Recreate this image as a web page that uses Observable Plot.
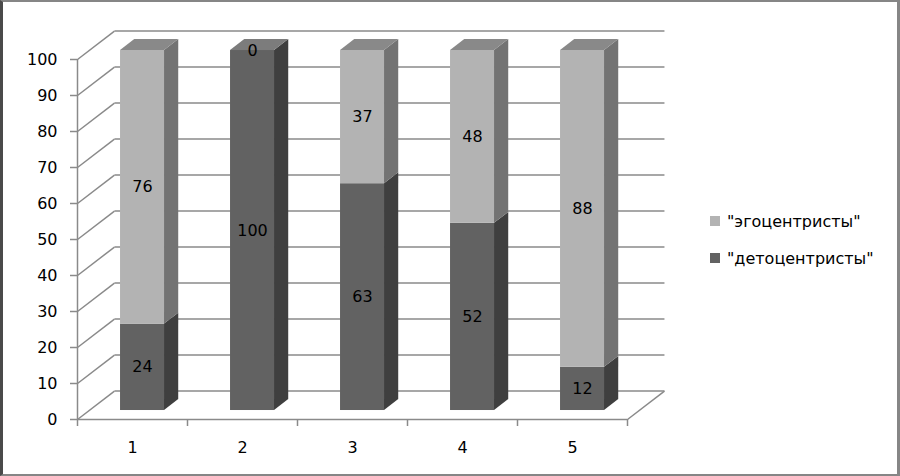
<!DOCTYPE html>
<html>
<head>
<meta charset="utf-8">
<script src="https://cdn.jsdelivr.net/npm/d3@7"></script>
<script src="https://cdn.jsdelivr.net/npm/@observablehq/plot@0.6"></script>
<style>
  html, body { margin: 0; padding: 0; background: #fff; }
  #wrap { position: relative; width: 900px; height: 476px; overflow: hidden; font-family: "DejaVu Sans", sans-serif; }
  #wrap svg { position: absolute; left: 0; top: 0; }
  #frame { position: absolute; left: 0; top: 0; width: 900px; height: 476px; box-sizing: border-box;
           border-top: 2px solid #868686; border-bottom: 2px solid #868686; border-right: 3px solid #868686; border-left: 3px solid #4a4a4a; pointer-events: none; }
  .leg { position: absolute; left: 710px; display: flex; align-items: center; height: 20px; font-size: 16px; color: #000; white-space: nowrap; }
  .leg span.sw { display: inline-block; width: 10px; height: 10px; margin-right: 7px; }
</style>
</head>
<body>
<div id="wrap"></div>
<script>
// ---- data ----
const categories = [1, 2, 3, 4, 5];
const detocentrists = [24, 100, 63, 52, 12];
const egocentrists = [76, 0, 37, 48, 88];
const seriesNames = ['"детоцентристы"', '"эгоцентристы"'];
const yTicks = [0, 10, 20, 30, 40, 50, 60, 70, 80, 90, 100];

// ---- style ----
const colors = {
  dark: { front: "#626262", side: "#3f3f3f", top: "#7c7c7c" },
  light: { front: "#b3b3b3", side: "#737373", top: "#898989" }
};
const gridColor = "#8a8a8a";
// 3D depth (in data units) and bar placement inside the depth
const DX = 0.336, DY = 7.9, F = 0.316, B = 0.70, HALF = 0.2, SHIFT = -0.015;

// ---- derived segments ----
const segments = [];
categories.forEach((c, i) => {
  segments.push({ id: c + "d", cat: c, s: "dark", y0: 0, y1: detocentrists[i], v: detocentrists[i] });
  segments.push({ id: c + "l", cat: c, s: "light", y0: detocentrists[i], y1: detocentrists[i] + egocentrists[i], v: egocentrists[i] });
});
const xl = d => d.cat + SHIFT - HALF, xr = d => d.cat + SHIFT + HALF;
const sidePts = segments.flatMap(d => [
  { id: d.id, s: d.s, x: xr(d) + F * DX, y1: d.y0 + F * DY, y2: d.y1 + F * DY },
  { id: d.id, s: d.s, x: xr(d) + B * DX, y1: d.y0 + B * DY, y2: d.y1 + B * DY }
]);
const tops = categories.map((c, i) => ({ cat: c, s: egocentrists[i] > 0 ? "light" : "dark", t: detocentrists[i] + egocentrists[i] }));
const topPts = tops.flatMap(d => [
  { id: d.cat, s: d.s, y: d.t + F * DY, x1: xl(d) + F * DX, x2: xr(d) + F * DX },
  { id: d.cat, s: d.s, y: d.t + B * DY, x1: xl(d) + B * DX, x2: xr(d) + B * DX }
]);
const x0 = categories[0] - 0.5, xN = categories[categories.length - 1] + 0.5;
const wallDiag = yTicks.map(v => ({ x1: x0, y1: v, x2: x0 + DX, y2: v + DY }));
const backLines = yTicks.map(v => ({ x1: x0 + DX, y1: v + DY, x2: xN + DX, y2: v + DY }));
const floorEdge = [{ x1: xN, y1: 0, x2: xN + DX, y2: DY }];
const bounds = d3.range(x0, xN + 0.001, 1);

const marks = [
  Plot.link(wallDiag, { x1: "x1", y1: "y1", x2: "x2", y2: "y2", stroke: gridColor, strokeWidth: 1.5 }),
  Plot.link(backLines, { x1: "x1", y1: "y1", x2: "x2", y2: "y2", stroke: gridColor, strokeWidth: 1.5 }),
  Plot.link(floorEdge, { x1: "x1", y1: "y1", x2: "x2", y2: "y2", stroke: gridColor, strokeWidth: 1.5 }),
  Plot.ruleY([0], { stroke: gridColor, strokeWidth: 1.5 }),
  Plot.ruleX([x0], { y1: 0, y2: 100, stroke: gridColor, strokeWidth: 1.5 }),
  Plot.axisY({ ticks: yTicks, tickSize: 7, tickPadding: 13, fontSize: 16, stroke: gridColor, strokeWidth: 1.5, fill: "#000", label: null }),
  Plot.axisX({ ticks: bounds, tickSize: 7, tickFormat: () => "", stroke: gridColor, strokeWidth: 1.5, label: null }),
  Plot.axisX({ ticks: categories, tickSize: 0, tickPadding: 22, fontSize: 16, fill: "#000", tickFormat: d3.format("d"), label: null })
];
for (const s of ["dark", "light"]) {
  marks.push(Plot.areaY(sidePts.filter(p => p.s === s), { x: "x", y1: "y1", y2: "y2", z: "id", fill: colors[s].side }));
}
for (const s of ["dark", "light"]) {
  marks.push(Plot.areaX(topPts.filter(p => p.s === s), { y: "y", x1: "x1", x2: "x2", z: "id", fill: colors[s].top }));
}
for (const s of ["dark", "light"]) {
  marks.push(Plot.rect(segments.filter(d => d.s === s), {
    x1: d => xl(d) + F * DX, x2: d => xr(d) + F * DX,
    y1: d => d.y0 + F * DY, y2: d => d.y1 + F * DY, fill: colors[s].front
  }));
}
marks.push(Plot.text(segments, {
  x: d => d.cat + SHIFT + F * DX, y: d => (d.y0 + d.y1) / 2 + F * DY,
  text: d => String(d.v), fontSize: 16, fill: "#000"
}));

const chart = Plot.plot({
  width: 900, height: 476,
  marginLeft: 77, marginRight: 273, marginTop: 59, marginBottom: 57,
  x: { type: "linear", domain: [x0, xN], label: null },
  y: { domain: [0, 100], label: null },
  style: { fontFamily: "DejaVu Sans", background: "transparent", overflow: "visible" },
  marks
});
const wrap = document.getElementById("wrap");
wrap.appendChild(chart);

// legend (HTML)
const legendItems = [
  { name: seriesNames[1], color: colors.light.front, top: 211 },
  { name: seriesNames[0], color: colors.dark.front, top: 248 }
];
for (const it of legendItems) {
  const div = document.createElement("div");
  div.className = "leg";
  div.style.top = it.top + "px";
  const sw = document.createElement("span");
  sw.className = "sw"; sw.style.background = it.color;
  div.appendChild(sw);
  div.appendChild(document.createTextNode(it.name));
  wrap.appendChild(div);
}
const frame = document.createElement("div");
frame.id = "frame";
wrap.appendChild(frame);
</script>
</body>
</html>
